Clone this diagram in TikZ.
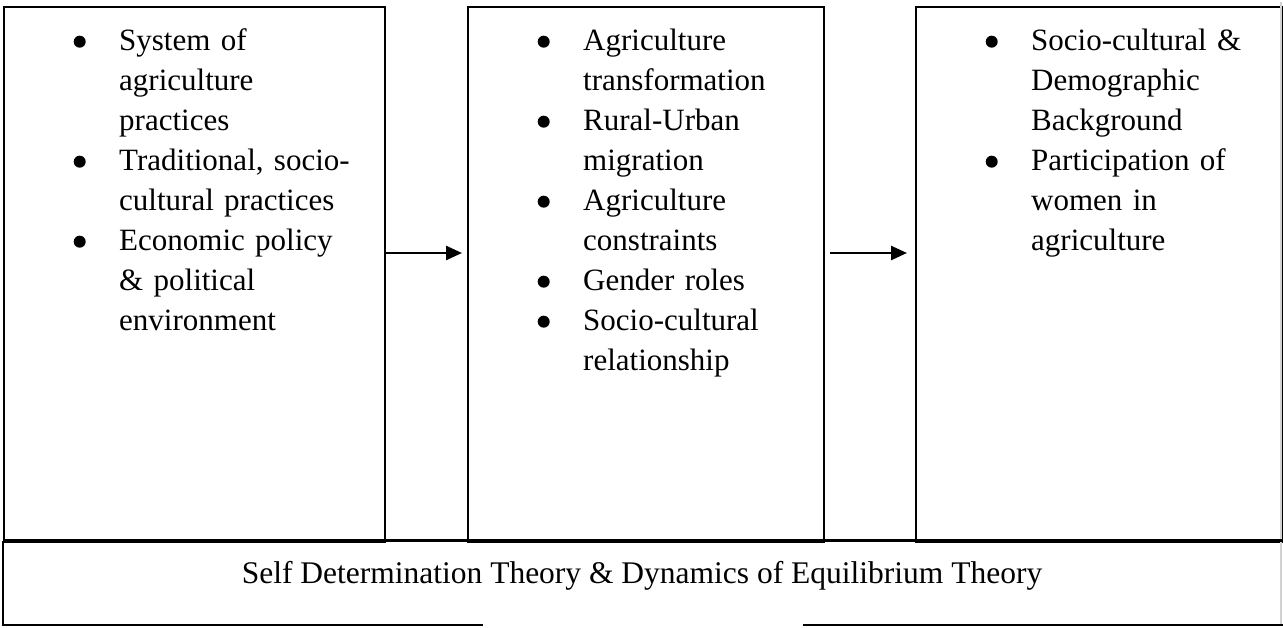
\documentclass[tikz,border=0pt]{standalone}
\usepackage{fontspec}
\setmainfont{Liberation Serif}
\usetikzlibrary{arrows.meta}

\newcommand{\dotmark}{\tikz[baseline=0pt]\fill (6pt,8.5pt) circle (6pt);}
\newcommand{\bul}{\par\noindent\hangindent=45.5pt\hangafter=1\strut\makebox[45.5pt][l]{\dotmark}}

\tikzset{
 box/.style={draw, line width=2pt, anchor=north west, inner sep=0pt, minimum height=535pt},
 items/.style={anchor=north west, inner sep=0pt, text width=330pt, font=\fontsize{31}{40}\selectfont\raggedright},
 arr/.style={-{Triangle[length=16pt,width=14pt]}, line width=2.5pt}
}

\begin{document}
\begin{tikzpicture}[x=1pt,y=1pt]
 \useasboundingbox (0,0) rectangle (1283,627);
 \node[box, minimum width=381pt] (box1) at (3,621) {};
 \node[box, minimum width=356pt] (box2) at (467,621) {};
 \node[box, minimum width=366pt] (box3) at (915,621) {};
 \draw[gray!35, line width=1.5pt] (1281,625) -- (1281,2);

 \node[items] (list1) at ([shift={(70.5,-4)}]box1.north west)
  {\bul System of\newline agriculture\newline practices
   \bul Traditional, socio-\newline cultural practices
   \bul Economic policy\newline \& political\newline environment\par};
 \node[items] (list2) at ([shift={(70.5,-4)}]box2.north west)
  {\bul Agriculture\newline transformation
   \bul Rural-Urban\newline migration
   \bul Agriculture\newline constraints
   \bul Gender roles
   \bul Socio-cultural\newline relationship\par};
 \node[items] (list3) at ([shift={(70.5,-4)}]box3.north west)
  {\bul Socio-cultural \&\newline Demographic\newline Background
   \bul Participation of\newline women in\newline agriculture\par};

 \draw[arr, shorten >=5pt] ([yshift=21.5pt]box1.east) -- ([yshift=21.5pt]box2.west);
 \draw[arr, shorten <=5pt, shorten >=8pt] ([yshift=21.5pt]box2.east) -- ([yshift=21.5pt]box3.west);

 \draw[line width=3pt] (3,86) -- (1283,86);
 \draw[line width=2pt] (3,86) -- (3,2) -- (483,2);
 \draw[line width=2pt] (803,2) -- (1283,2);
 \node[anchor=base, inner sep=0pt, font=\fontsize{31.5}{40}\selectfont] (theory) at (642,44)
  {Self Determination Theory \& Dynamics of Equilibrium Theory};
\end{tikzpicture}
\end{document}
